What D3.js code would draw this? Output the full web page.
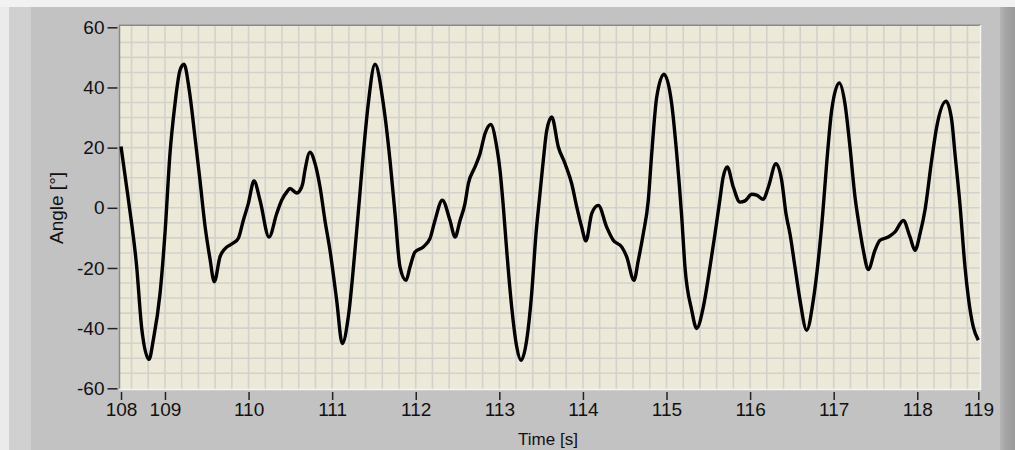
<!DOCTYPE html>
<html>
<head>
<meta charset="utf-8">
<script src="https://cdn.jsdelivr.net/npm/d3@7"></script>
<style>
  html, body { margin: 0; padding: 0; background: #c2c2c2; }
  svg { display: block; }
  text { font-family: "Liberation Sans", Arial, sans-serif; fill: #111; }
</style>
</head>
<body>
<svg id="chart" width="1015" height="450"></svg>
<script>
// Sampled joint angle over time
const time = [
  108.474, 108.561, 108.662, 108.722, 108.809, 108.860, 108.941, 109.000, 109.060,
  109.120, 109.180, 109.228, 109.291, 109.359, 109.419, 109.479, 109.539, 109.590, 109.658,
  109.718, 109.817, 109.877, 109.937, 109.997, 110.065, 110.137, 110.245, 110.337, 110.396,
  110.456, 110.496, 110.576, 110.615, 110.648, 110.675, 110.735, 110.795, 110.855, 110.914,
  110.974, 111.054, 111.121, 111.193, 111.273, 111.325, 111.373, 111.432, 111.513, 111.612,
  111.692, 111.752, 111.812, 111.884, 111.931, 111.991, 112.090, 112.171, 112.230, 112.318,
  112.410, 112.470, 112.530, 112.589, 112.629, 112.709, 112.769, 112.829, 112.897, 112.969,
  113.008, 113.048, 113.088, 113.148, 113.208, 113.259, 113.327, 113.387, 113.439, 113.478,
  113.526, 113.567, 113.627, 113.706, 113.786, 113.866, 113.926, 113.985, 114.037, 114.105,
  114.184, 114.284, 114.363, 114.464, 114.524, 114.611, 114.663, 114.722, 114.782, 114.823,
  114.883, 114.970, 115.062, 115.122, 115.182, 115.221, 115.301, 115.361, 115.440, 115.520,
  115.580, 115.640, 115.676, 115.727, 115.799, 115.879, 115.939, 116.019, 116.079, 116.158,
  116.218, 116.310, 116.378, 116.429, 116.477, 116.537, 116.597, 116.677, 116.756, 116.816,
  116.869, 116.916, 116.976, 117.067, 117.135, 117.195, 117.255, 117.294, 117.354, 117.414,
  117.494, 117.554, 117.653, 117.734, 117.833, 117.913, 117.973, 118.033, 118.092, 118.172,
  118.232, 118.344, 118.412, 118.451, 118.511, 118.571, 118.610, 118.670, 118.730
];
const angle = [
  20.4, 3, -19.7, -40.1, -50.4, -44, -28.5, -8.6, 18,
  34.6, 45.7, 47.7, 39, 23.5, 9.1, -6, -17, -24.6, -16.3,
  -13.6, -11.7, -10.2, -4.2, 1.4, 8.9, 2.5, -9.7, -1.9, 2.5,
  5.2, 6.4, 4.9, 5.8, 8, 12.5, 18.5, 14.7, 6.9, -4.2,
  -14.1, -30.7, -45.1, -36.3, -14.1, 2.5, 18, 34.6, 47.7, 34.6,
  15.8, -1.9, -19.7, -24.1, -19.7, -14.7, -13, -10.2, -4.2, 2.5,
  -4.2, -9.7, -4.2, 1.4, 8, 13.6, 18, 24.7, 27.7, 20.2,
  12.5, 0.3, -14.1, -33, -46.2, -50.7, -44, -28.5, -8.6, 2.5,
  15.8, 25.7, 30.2, 20.2, 14.7, 8, 0.3, -6.4, -11, -1.9,
  0.8, -6.4, -10.8, -13, -16.3, -24.1, -17.4, -8.6, 2.5, 18,
  36.8, 44.4, 34.6, 18, -3, -19.7, -34, -40.1, -33, -19.7,
  -8.6, 3, 10, 13.6, 6.9, 1.9, 2.3, 4.5, 4.2, 2.8,
  6.9, 14.7, 9.1, -1.9, -8.6, -19.7, -30.7, -40.7, -30.7, -17.4,
  -1.9, 14.7, 32.4, 41.5, 34.6, 20.2, 3.6, -4, -14.1, -20.5,
  -14.1, -10.8, -9.7, -8, -4.2, -9.7, -14.1, -8.6, -0.8, 15.8,
  26.8, 35.4, 29.1, 18, 1, -19.7, -29.6, -39.6, -44
];

// Axis ranges and tick marks
const timeRange = [108.474, 118.73];
const angleRange = [-60, 60];
const xTickValues = [108.474, 109, 110, 111, 112, 113, 114, 115, 116, 117, 118, 118.73];
const xTickLabels = ["108", "109", "110", "111", "112", "113", "114", "115", "116", "117", "118", "119"];
const yTickValues = [-60, -40, -20, 0, 20, 40, 60];
const xGridStep = 0.2;
const yGridStep = 5;
const xTitle = "Time [s]";
const yTitle = "Angle [°]";

const svg = d3.select("#chart");
const W = 1015, H = 450;

// Panel frame
const defs = svg.append("defs");
const rg = defs.append("linearGradient").attr("id", "rightEdge");
rg.append("stop").attr("offset", "0%").attr("stop-color", "#b4b4b4");
rg.append("stop").attr("offset", "40%").attr("stop-color", "#a4a4a4");
rg.append("stop").attr("offset", "100%").attr("stop-color", "#9a9a9a");

svg.append("rect").attr("width", W).attr("height", H).attr("fill", "#c2c2c2");
svg.append("rect").attr("x", 0).attr("y", 0).attr("width", 31).attr("height", H).attr("fill", "#d0d0d0");
svg.append("rect").attr("x", 0).attr("y", 0).attr("width", 9).attr("height", H).attr("fill", "#ebebeb");
svg.append("rect").attr("x", 0).attr("y", 0).attr("width", W).attr("height", 7).attr("fill", "#f2f2f2");
svg.append("rect").attr("x", 1000).attr("y", 7).attr("width", 15).attr("height", H - 7).attr("fill", "url(#rightEdge)");

// Scales
const plot = { left: 121, right: 978.3, top: 27.3, bottom: 388.3 };
const x = d3.scaleLinear().domain(timeRange).range([plot.left, plot.right]);
const y = d3.scaleLinear().domain(angleRange).range([plot.bottom, plot.top]);

// Plot background
svg.append("rect")
  .attr("x", 120).attr("y", 25.5)
  .attr("width", 860).attr("height", 364)
  .attr("fill", "#ece9d8");

// Grid
const gx = d3.range(Math.ceil(timeRange[0] / xGridStep) * xGridStep, timeRange[1], xGridStep);
const gy = d3.range(angleRange[0] + yGridStep, angleRange[1], yGridStep);
const grid = svg.append("g").attr("stroke", "#d3d1cb").attr("stroke-width", 1.6);
grid.selectAll("line.v").data(gx).join("line")
  .attr("x1", d => x(d)).attr("x2", d => x(d))
  .attr("y1", 26).attr("y2", 389);
grid.selectAll("line.h").data(gy).join("line")
  .attr("x1", 120).attr("x2", 980)
  .attr("y1", d => y(d)).attr("y2", d => y(d));

// Sunken border of the plot area
svg.append("line").attr("x1", 119.5).attr("x2", 119.5).attr("y1", 25).attr("y2", 390).attr("stroke", "#8a8a8a").attr("stroke-width", 1.5);
svg.append("line").attr("x1", 119).attr("x2", 981).attr("y1", 25.2).attr("y2", 25.2).attr("stroke", "#8a8a8a").attr("stroke-width", 1.5);
svg.append("line").attr("x1", 119).attr("x2", 981).attr("y1", 389.6).attr("y2", 389.6).attr("stroke", "#f4f4f4").attr("stroke-width", 1.5);
svg.append("line").attr("x1", 980.5).attr("x2", 980.5).attr("y1", 25).attr("y2", 390).attr("stroke", "#f4f4f4").attr("stroke-width", 1.5);

// Waveform
const pts = d3.zip(time, angle);
const line = d3.line()
  .x(d => x(d[0]))
  .y(d => y(d[1]))
  .curve(d3.curveMonotoneX);
svg.append("path")
  .datum(pts)
  .attr("d", line)
  .attr("fill", "none")
  .attr("stroke", "#000")
  .attr("stroke-width", 3.4)
  .attr("stroke-linejoin", "round");

// Y axis (plain hyphen for negative labels)
const yAxis = d3.axisLeft(y)
  .tickValues(yTickValues)
  .tickFormat(d => String(d))
  .tickSize(10)
  .tickPadding(3);
const gyAxis = svg.append("g").attr("transform", "translate(117.5,0)").call(yAxis);
gyAxis.select(".domain").remove();
gyAxis.selectAll(".tick line").attr("stroke", "#222").attr("stroke-width", 1.5);
gyAxis.selectAll(".tick text")
  .style("font-size", "19px")
  .attr("fill", "#111");

// X axis
const xAxis = d3.axisBottom(x)
  .tickValues(xTickValues)
  .tickFormat((d, i) => xTickLabels[i])
  .tickSize(8)
  .tickPadding(3);
const gxAxis = svg.append("g").attr("transform", "translate(0,392)").call(xAxis);
gxAxis.select(".domain").remove();
gxAxis.selectAll(".tick line").attr("stroke", "#222").attr("stroke-width", 1.5);
gxAxis.selectAll(".tick text")
  .style("font-size", "19px")
  .attr("fill", "#111");

// Axis titles
svg.append("text")
  .attr("transform", "translate(63,208) rotate(-90)")
  .attr("text-anchor", "middle")
  .style("font-size", "19px")
  .text(yTitle);
svg.append("text")
  .attr("x", 548).attr("y", 445)
  .attr("text-anchor", "middle")
  .style("font-size", "17px")
  .text(xTitle);
</script>
</body>
</html>
